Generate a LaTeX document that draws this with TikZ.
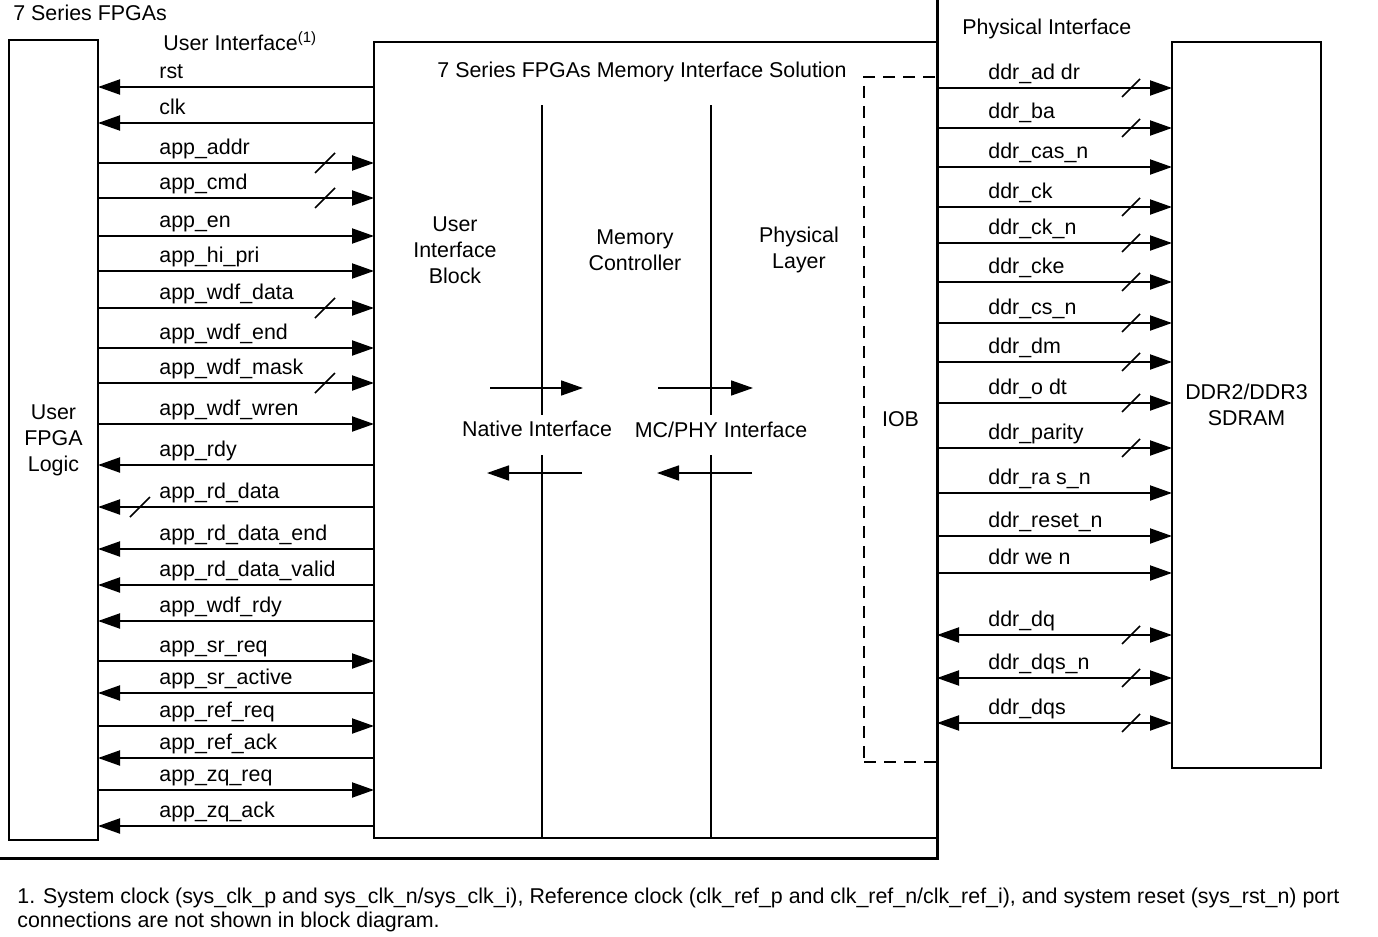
\documentclass[tikz,border=0pt]{standalone}
\usepackage{fontspec}
\setmainfont{Liberation Sans}
\usetikzlibrary{arrows.meta, positioning}

\begin{document}
\begin{tikzpicture}[
        x=0.5pt, y=-0.5pt,
        font=\fontsize{10.7}{13}\selectfont,
        blokk/.style = {rectangle, draw, line width=1pt, inner sep=0pt, outer sep=0pt, align=center},
        pil/.style = {line width=1pt, -{Triangle[length=11pt,width=7.5pt]}},
        lip/.style = {line width=1pt, {Triangle[length=11pt,width=7.5pt]}-},
        bipil/.style = {line width=1pt, {Triangle[length=11pt,width=7.5pt]}-{Triangle[length=11pt,width=7.5pt]}},
        sig/.style = {anchor=base west, inner sep=0pt},
        bus/.style = {line width=0.8pt},
        txt/.style = {align=center, inner sep=0pt}
        ]
        \useasboundingbox (0,0) rectangle (1378,937);
        % blocks
        \node[blokk, minimum width=44.5pt, minimum height=400pt] (ufl) at (53.5,440) {User\\FPGA\\Logic};
        \node[blokk, minimum width=281.5pt, minimum height=398pt] (mis) at (655.5,440) {};
        \node[blokk, dash pattern=on 6pt off 4pt, minimum width=36.5pt, minimum height=342.5pt] (iob) at (900.5,419.5) {IOB};
        \node[blokk, minimum width=74.5pt, minimum height=363pt] (sdram) at (1246.5,405) {DDR2/DDR3\\SDRAM};
        \coordinate (fpgaSW) at (0,858);
        \coordinate (fpgaNE) at (937,0);
        \draw[line width=1.5pt] (fpgaSW) -| (fpgaNE);

        % headings
        \node[sig] (fpga) at (13,20) {7 Series FPGAs};
        \node[sig] (ui) at (163,50) {User Interface\textsuperscript{(1)}};
        \node[sig] (pi) at (962,34) {Physical Interface};
        \node[txt, anchor=base] (mistitle) at (642,77) {7 Series FPGAs Memory Interface Solution};
        \node[txt] (uib) at (455,250) {User\\Interface\\Block};
        \node[txt] (mc) at (635,250) {Memory\\Controller};
        \node[txt] (phy) at (799,250) {Physical\\Layer};
        \node[txt] (ni) at (537,429) {Native Interface};
        \node[txt] (mcphy) at (721,430) {MC/PHY Interface};

        % layer borders inside the solution
        \draw[line width=0.8pt] (542,105) -- (542,415) (542,455) -- (542,838);
        \draw[line width=0.8pt] (711,105) -- (711,415) (711,455) -- (711,838);
        \coordinate (ni-a) at (490,388);
        \coordinate (ni-b) at (583,388);
        \coordinate (ni-c) at (582,473);
        \coordinate (ni-d) at (487,473);
        \coordinate (mcphy-a) at (658,388);
        \coordinate (mcphy-b) at (753,388);
        \coordinate (mcphy-c) at (752,473);
        \coordinate (mcphy-d) at (657,473);
        \draw[pil, line width=0.8pt] (ni-a) -- (ni-b);
        \draw[pil, line width=0.8pt] (ni-c) -- (ni-d);
        \draw[pil, line width=0.8pt] (mcphy-a) -- (mcphy-b);
        \draw[pil, line width=0.8pt] (mcphy-c) -- (mcphy-d);

        % user interface
        \foreach \y/\retning/\navn [count=\i] in {
            87/lip/rst, 123/lip/clk, 163/pil/app\_addr, 198/pil/app\_cmd,
            236/pil/app\_en, 271/pil/app\_hi\_pri, 308/pil/app\_wdf\_data,
            348/pil/app\_wdf\_end, 383/pil/app\_wdf\_mask, 424/pil/app\_wdf\_wren,
            465/lip/app\_rdy, 507/lip/app\_rd\_data, 549/lip/app\_rd\_data\_end,
            585/lip/app\_rd\_data\_valid, 621/lip/app\_wdf\_rdy, 661/pil/app\_sr\_req,
            693/lip/app\_sr\_active, 726/pil/app\_ref\_req, 758/lip/app\_ref\_ack,
            790/pil/app\_zq\_req, 826/lip/app\_zq\_ack}
        {
            \draw[\retning] (ufl.east |- 0,\y) -- (mis.west |- 0,\y);
            \node[sig] (ui-\i) at (159,\y-9) {\navn};
        }
        \foreach \y in {163,198,308,383}
            \draw[bus] (315,\y+10) -- (335,\y-10);
        \draw[bus] (130,517) -- (150,497);

        % physical interface
        \foreach \y/\retning/\navn [count=\i] in {
            88/pil/ddr\_ad dr, 128/pil/ddr\_ba, 167/pil/ddr\_cas\_n,
            207/pil/ddr\_ck, 243/pil/ddr\_ck\_n, 282/pil/ddr\_cke,
            323/pil/ddr\_cs\_n, 362/pil/ddr\_dm, 403/pil/ddr\_o dt,
            448/pil/ddr\_parity, 493/pil/ddr\_ra s\_n, 536/pil/ddr\_reset\_n,
            573/pil/ddr we n, 635/bipil/ddr\_dq, 678/bipil/ddr\_dqs\_n,
            723/bipil/ddr\_dqs}
        {
            \draw[\retning] (mis.east |- 0,\y) -- (sdram.west |- 0,\y);
            \node[sig] (pi-\i) at (988,\y-9) {\navn};
        }
        \foreach \y in {88,128,207,243,282,323,362,403,448,635,678,723}
            \draw[bus] (1122,\y+9) -- (1140,\y-9);

        % footnote
        \node[anchor=base west, align=left, inner sep=0pt, font=\fontsize{10.7}{12}\selectfont] (fotnote) at (17,927)
            {1. System clock (sys\_clk\_p and sys\_clk\_n/sys\_clk\_i), Reference clock (clk\_ref\_p and clk\_ref\_n/clk\_ref\_i), and system reset (sys\_rst\_n) port\\
             connections are not shown in block diagram.};
\end{tikzpicture}
\end{document}
